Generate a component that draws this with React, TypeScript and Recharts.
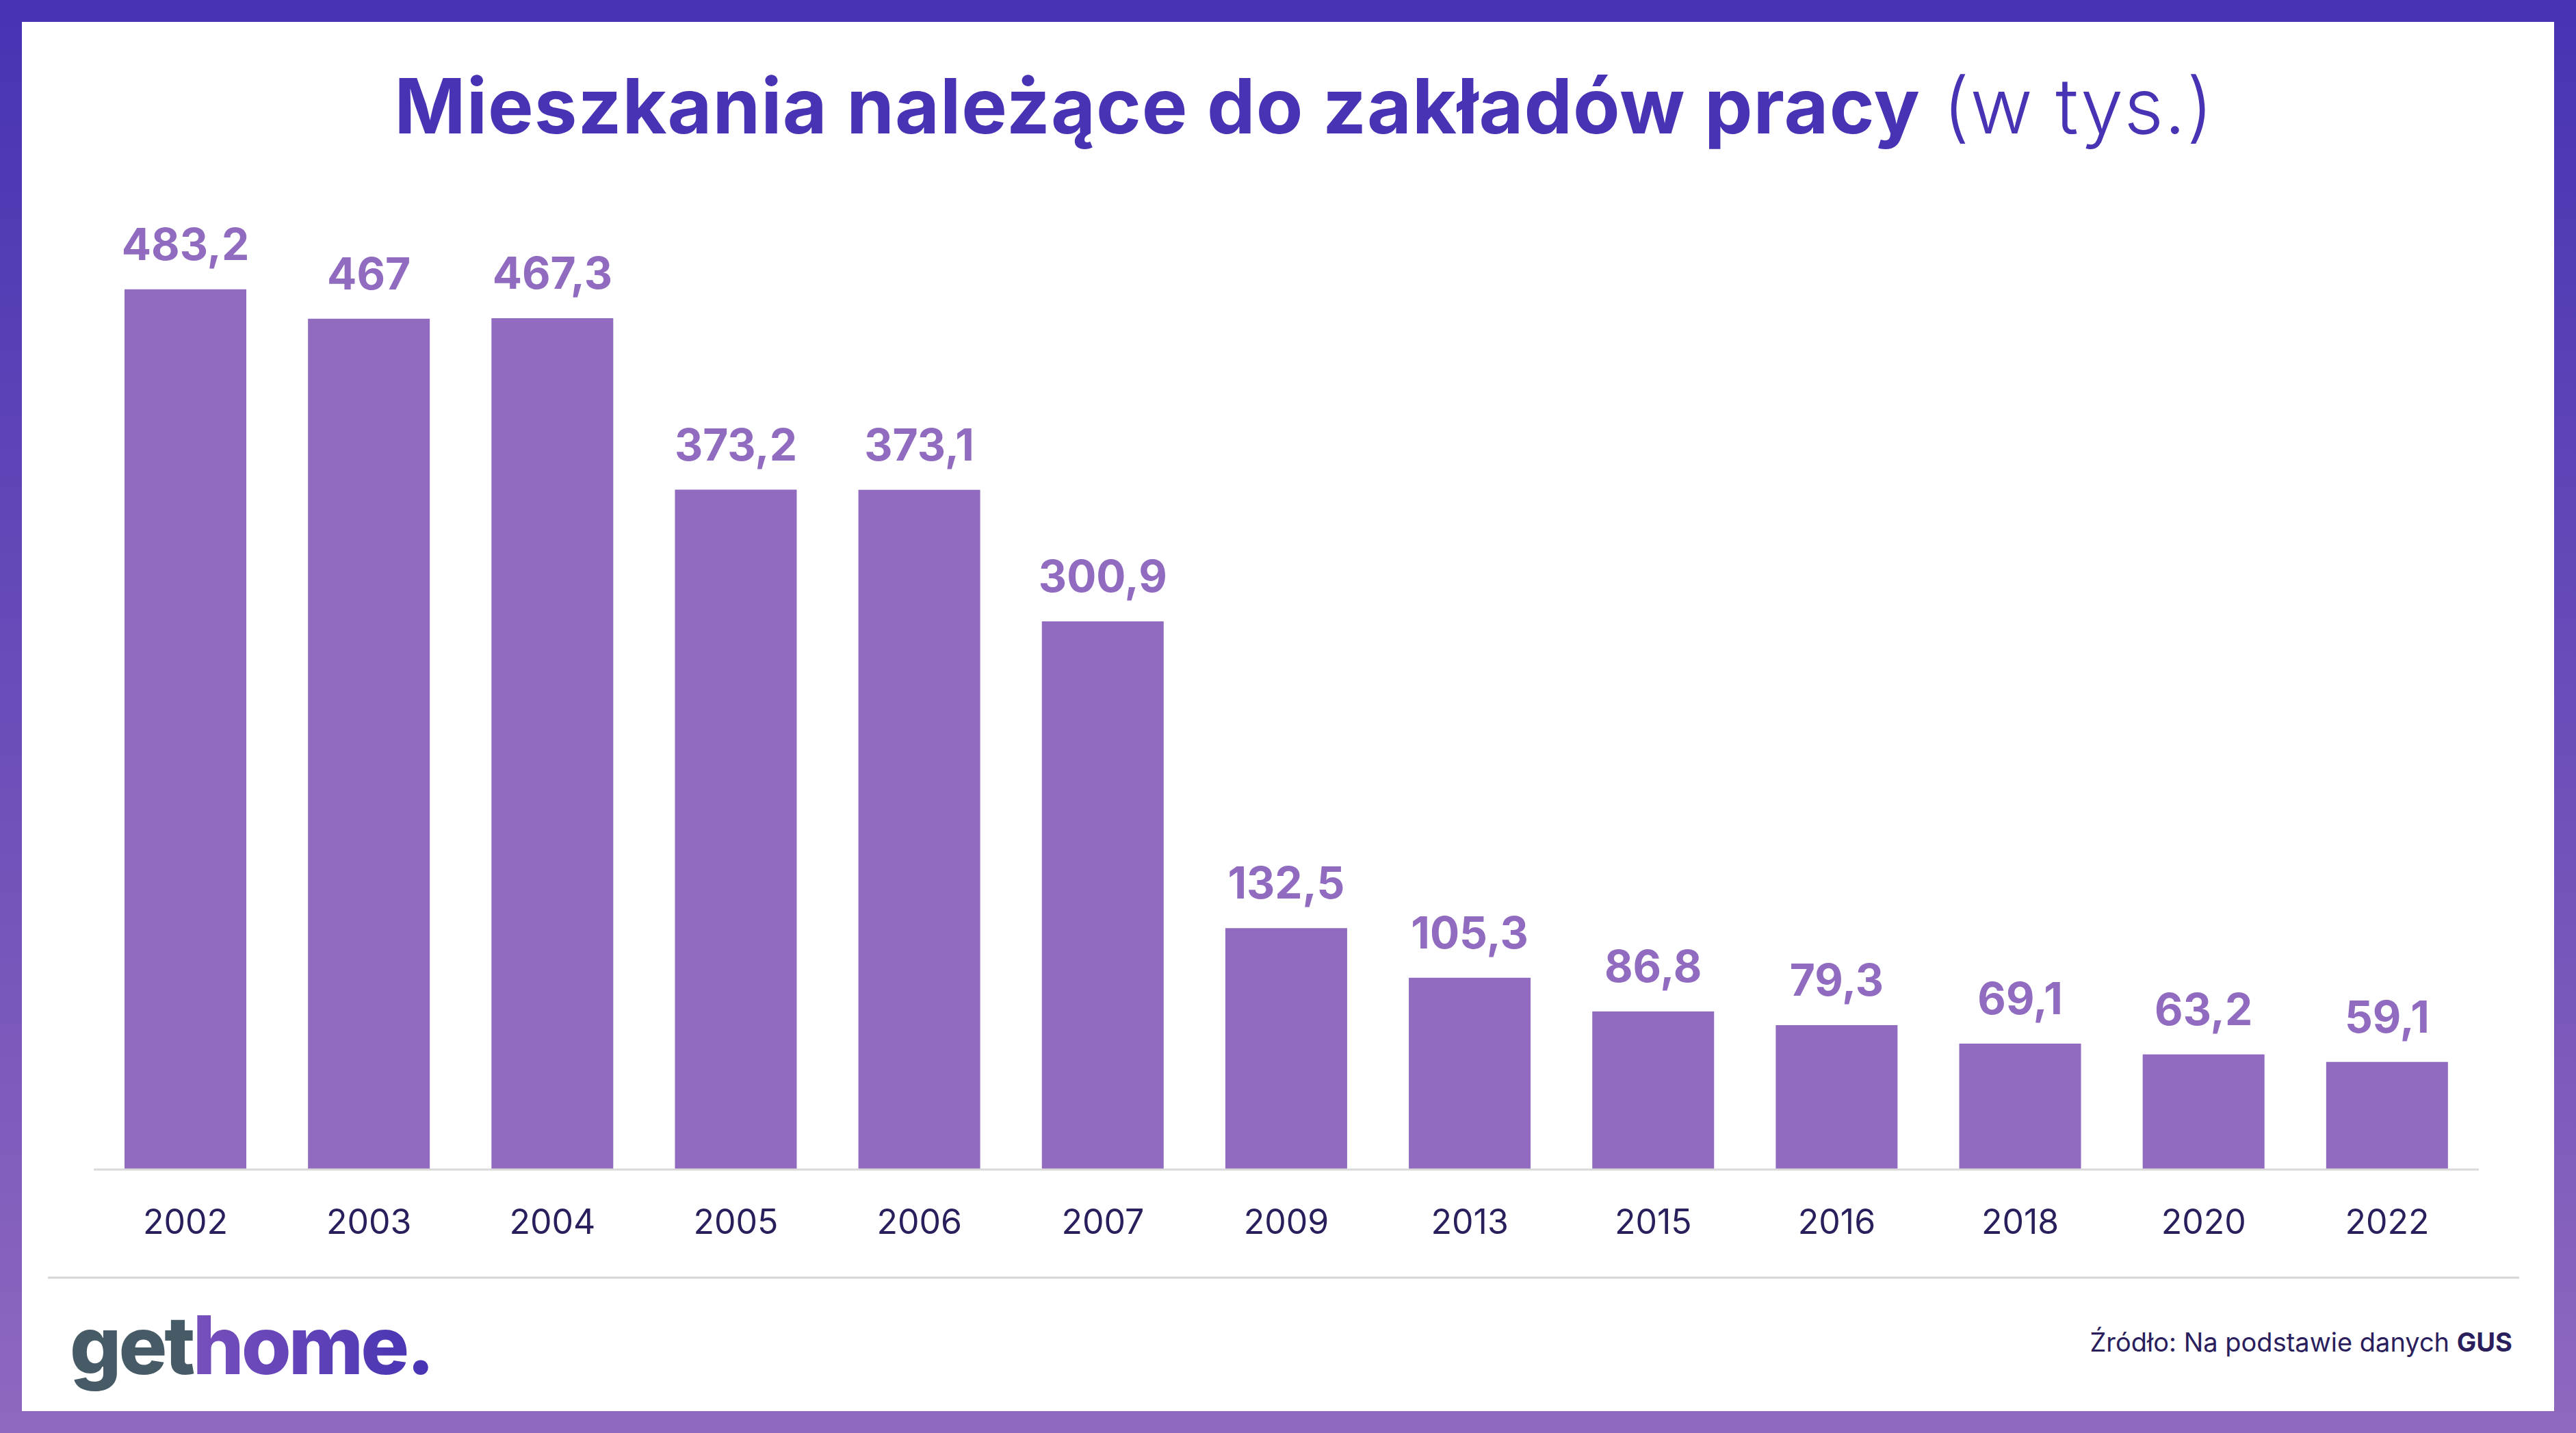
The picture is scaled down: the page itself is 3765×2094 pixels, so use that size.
import { BarChart, Bar, XAxis, YAxis, LabelList } from 'recharts';

const years = ['2002', '2003', '2004', '2005', '2006', '2007', '2009', '2013', '2015', '2016', '2018', '2020', '2022'];
const values = [483.2, 467, 467.3, 373.2, 373.1, 300.9, 132.5, 105.3, 86.8, 79.3, 69.1, 63.2, 59.1];

const data = years.map((y, i) => ({ year: y, value: values[i] }));

const W = 3765;
const H = 2094;
const FONT = "Inter, 'Open Sans', sans-serif";
const BAR = '#906bc0';
const INK = '#2a1f5c';

const fmt = (v: any) => String(v).replace('.', ',');

export default function App() {
  return (
    <div style={{ position: 'absolute', left: 0, top: 0, width: W, height: H, background: 'linear-gradient(to bottom, #4733b3, #8f68bf)', fontFamily: FONT }}>
      <div style={{ position: 'absolute', left: 32, top: 32, right: 32, bottom: 32, background: '#fff' }} />

      {/* wykres */}
      <div style={{ position: 'absolute', left: 0, top: 0 }}>
        <BarChart width={W} height={1900} data={data} margin={{ top: 378, right: 142, left: 137, bottom: 71 }} barSize={178}>
          <YAxis hide domain={[0, 500]} />
          <XAxis
            dataKey="year"
            height={120}
            tickLine={false}
            tickMargin={52}
            axisLine={{ stroke: '#d9d9d9', strokeWidth: 3 }}
            tick={{ fontSize: 50, fill: INK, fontFamily: FONT }}
          />
          <Bar dataKey="value" fill={BAR} isAnimationActive={false}>
            <LabelList dataKey="value" position="top" offset={43} formatter={fmt}
              style={{ fontSize: 64, fontWeight: 700, fill: BAR, fontFamily: FONT }} />
          </Bar>
        </BarChart>
      </div>

      {/* tytuł, logo, źródło */}
      <svg width={W} height={H} style={{ position: 'absolute', left: 0, top: 0, pointerEvents: 'none' }}>
        <defs>
          <linearGradient id="logoGrad" x1="0" y1="0" x2="1" y2="0">
            <stop offset="0%" stopColor="#905fc0" />
            <stop offset="100%" stopColor="#4733b3" />
          </linearGradient>
        </defs>
        <text x={1906} y={195} textAnchor="middle" fontFamily={FONT} fontSize={112} fill="#4733b3" letterSpacing={1}>
          <tspan fontWeight={700}>Mieszkania należące do zakładów pracy</tspan>
          <tspan fontWeight={300}> (w tys.)</tspan>
        </text>
        <line x1={70} x2={3682} y1={1867} y2={1867} stroke="#d6d6d6" strokeWidth={3} />
        <text x={102} y={2008} fontFamily={FONT} fontSize={118} fontWeight={800} letterSpacing={-4}>
          <tspan fill="#475b67">get</tspan>
          <tspan fill="url(#logoGrad)">home.</tspan>
        </text>
        <text x={3672} y={1975} textAnchor="end" fontFamily={FONT} fontSize={38} fill={INK}>
          Źródło: Na podstawie danych <tspan fontWeight={700}>GUS</tspan>
        </text>
      </svg>
    </div>
  );
}
